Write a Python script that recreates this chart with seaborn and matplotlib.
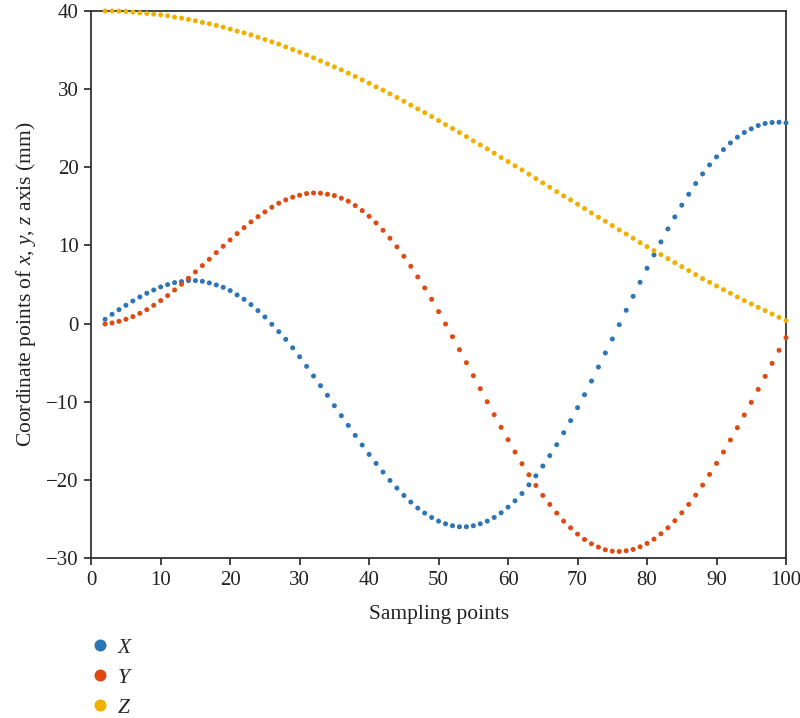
import numpy as np
import pandas as pd
import matplotlib
matplotlib.use("Agg")
import matplotlib.pyplot as plt
import seaborn as sns

# Sampling index
samples = list(range(2, 101))

x_vals = [0.55, 1.19, 1.78, 2.34, 2.89, 3.41, 3.88, 4.30, 4.69, 4.99, 5.24, 5.37, 5.50, 5.50,
          5.41, 5.20, 4.94, 4.64, 4.22, 3.66, 3.11, 2.43, 1.66, 0.85, -0.09, -1.03, -2.01,
          -3.10, -4.25,
          -5.47, -6.71, -7.95, -9.18, -10.51, -11.79, -13.03, -14.31, -15.54, -16.74, -17.89,
          -19.00, -20.07, -21.05, -21.99, -22.84, -23.61, -24.25, -24.81, -25.28, -25.62,
          -25.87, -26.00, -26.00, -25.87, -25.62, -25.28, -24.81, -24.21, -23.49, -22.68,
          -21.74, -20.63, -19.48,
          -18.23, -16.90, -15.50, -13.96, -12.42, -10.76, -9.10, -7.35, -5.56, -3.76, -1.97,
          -0.14, 1.70, 3.49, 5.28, 7.08, 8.78, 10.45, 12.11, 13.65, 15.15, 16.55, 17.92,
          19.15, 20.31, 21.33, 22.27, 23.12, 23.85, 24.45, 24.92, 25.34, 25.60, 25.73,
          25.77, 25.68]

y_vals = [-0.05, 0.08, 0.29, 0.55, 0.89, 1.31, 1.78, 2.34, 2.94, 3.58, 4.30, 5.03, 5.80,
          6.61, 7.42, 8.23, 9.08, 9.89, 10.70, 11.51, 12.28, 13.01, 13.69, 14.29, 14.89,
          15.40, 15.83, 16.17, 16.42, 16.64, 16.72, 16.68, 16.55,
          16.38, 16.04, 15.66, 15.10, 14.46, 13.73, 12.88, 11.94, 10.92, 9.81, 8.61, 7.33,
          5.97, 4.56, 3.11, 1.53, -0.05, -1.67, -3.34, -5.00, -6.67, -8.33, -10.00, -11.66,
          -13.28, -14.86, -16.44, -17.93, -19.34, -20.71,
          -21.99, -23.14, -24.25, -25.28, -26.13, -26.94, -27.62, -28.18, -28.60, -28.95,
          -29.12, -29.16, -29.07, -28.90, -28.56, -28.13, -27.58, -26.90, -26.13, -25.23,
          -24.21, -23.14, -21.95, -20.67, -19.30, -17.89, -16.44, -14.90, -13.32, -11.70,
          -10.08, -8.42, -6.75, -5.09, -3.42, -1.80]

z_vals = [40.00, 40.00, 39.98, 39.94, 39.86, 39.77, 39.68, 39.60, 39.51, 39.39, 39.21, 39.09,
          38.92, 38.75, 38.53, 38.36, 38.15, 37.93, 37.68, 37.42, 37.21, 36.95, 36.65, 36.35,
          36.06, 35.76, 35.41, 35.07, 34.73, 34.39, 34.01, 33.62, 33.24, 32.85, 32.47, 32.04,
          31.62, 31.19, 30.76, 30.29, 29.87, 29.40, 28.93,
          28.44, 27.96, 27.47, 26.99,
          26.50, 25.98, 25.47, 24.96, 24.45, 23.93, 23.38, 22.87, 22.36, 21.80, 21.25, 20.73,
          20.18,
          19.67, 19.11, 18.56, 18.00, 17.45, 16.89, 16.34, 15.83, 15.27, 14.72, 14.16, 13.61,
          13.09, 12.54, 11.98, 11.47, 10.92, 10.36, 9.85, 9.34, 8.83, 8.31, 7.80, 7.29, 6.78,
          6.27, 5.75, 5.28, 4.81, 4.34, 3.88, 3.41, 2.94, 2.51, 2.08, 1.66, 1.23, 0.80, 0.38]

series_names = ["$X$", "$Y$", "$Z$"]
series_colors = ["#2e75b6", "#dd4b12", "#f0b000"]

x_ticks = [0, 10, 20, 30, 40, 50, 60, 70, 80, 90, 100]
y_ticks = [-30, -20, -10, 0, 10, 20, 30, 40]

df = pd.DataFrame({
    "Sampling points": samples * 3,
    "value": x_vals + y_vals + z_vals,
    "series": [series_names[0]] * len(x_vals) + [series_names[1]] * len(y_vals)
              + [series_names[2]] * len(z_vals),
})

sns.set_theme(style="ticks")
plt.rcParams["font.family"] = ["Liberation Serif", "DejaVu Serif"]
plt.rcParams["mathtext.fontset"] = "custom"
plt.rcParams["mathtext.it"] = "Liberation Serif:italic"
plt.rcParams["mathtext.rm"] = "Liberation Serif"

fig = plt.figure(figsize=(8.0, 7.18), dpi=100)
ax = fig.add_axes([0.114, 0.2228, 0.8685, 0.7619])

sns.scatterplot(data=df, x="Sampling points", y="value", hue="series",
                palette=dict(zip(series_names, series_colors)), s=13, linewidth=0,
                ax=ax, clip_on=False, zorder=3)

ax.set_xlim(0, 100)
ax.set_ylim(-30, 40)
ax.set_xticks(x_ticks)
ax.set_yticks(y_ticks)
ax.tick_params(axis="both", direction="out", length=5, width=1.2, colors="#222222",
               labelsize=15, labelcolor="#222222", pad=4)
for sp in ax.spines.values():
    sp.set_visible(True)
    sp.set_color("#333333")
    sp.set_linewidth(1.3)

ax.set_xlabel("Sampling points", fontsize=15.5, color="#222222", labelpad=11)
ax.set_ylabel("Coordinate points of $x$, $y$, $z$ axis (mm)", fontsize=15.5,
              color="#222222", labelpad=6)

handles, labels = ax.get_legend_handles_labels()
ax.get_legend().remove()
fig.legend(handles, labels, loc="upper left", bbox_to_anchor=(0.099, 0.124),
           frameon=False, fontsize=15.5, markerscale=2.4, handletextpad=0.25,
           labelspacing=0.46, borderaxespad=0, handlelength=1.1)

fig.savefig("out.png", dpi=100)
